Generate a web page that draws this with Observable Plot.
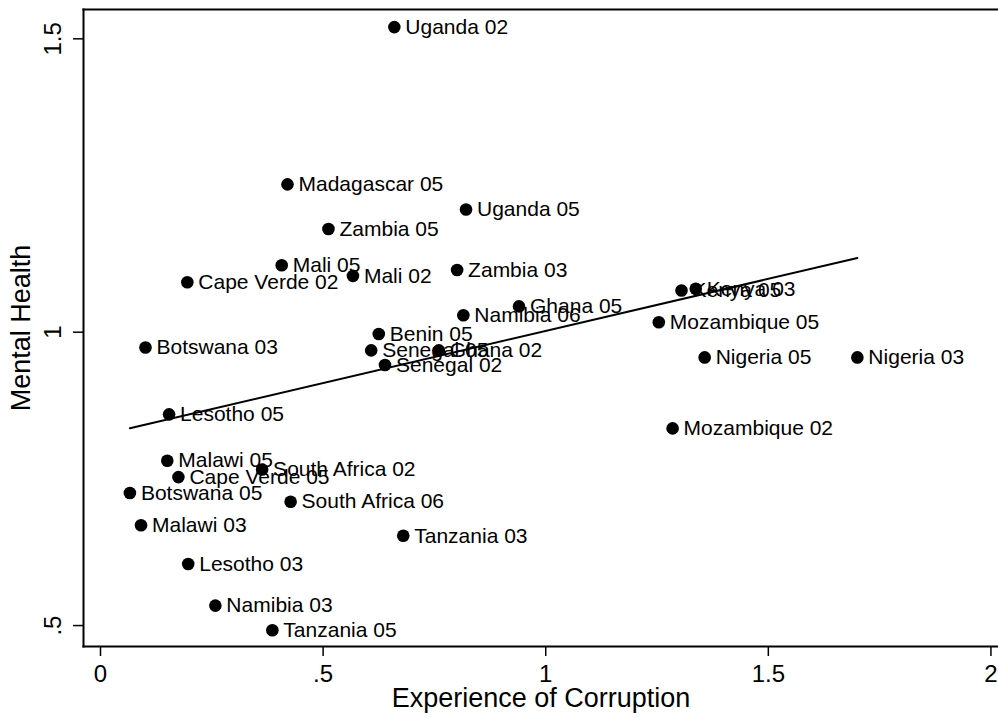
<!DOCTYPE html>
<html><head><meta charset="utf-8">
<script src="https://cdn.jsdelivr.net/npm/d3@7"></script>
<script src="https://cdn.jsdelivr.net/npm/@observablehq/plot@0.6"></script>
<style>
body{margin:0;background:#fff}
g[aria-label="x-axis label"], g[aria-label="y-axis label"]{font-size:27px}
</style>
</head><body><div id="chart"></div>
<script>
const labels = ["Uganda 02","Madagascar 05","Uganda 05","Zambia 05","Mali 05","Mali 02","Zambia 03","Cape Verde 02","Namibia 06","Benin 05","Botswana 03","Senegal 05","Ghana 02","Ghana 05","Kenya 05","Kenya 03","Mozambique 05","Nigeria 05","Nigeria 03","Mozambique 02","Senegal 02","Lesotho 05","Malawi 05","South Africa 02","Cape Verde 05","Botswana 05","South Africa 06","Malawi 03","Tanzania 03","Lesotho 03","Namibia 03","Tanzania 05"];
const corruption = [0.660,0.420,0.821,0.512,0.407,0.567,0.801,0.195,0.815,0.625,0.101,0.608,0.760,0.940,1.305,1.337,1.254,1.357,1.700,1.285,0.639,0.154,0.150,0.363,0.175,0.066,0.427,0.091,0.680,0.197,0.258,0.386];
const mentalHealth = [1.520,1.252,1.209,1.176,1.114,1.096,1.106,1.085,1.029,0.997,0.974,0.969,0.969,1.044,1.071,1.074,1.017,0.957,0.957,0.836,0.944,0.860,0.781,0.766,0.753,0.726,0.711,0.671,0.653,0.605,0.534,0.492];
const xTicks = [0, 0.5, 1, 1.5, 2];
const xTickLabels = ["0", ".5", "1", "1.5", "2"];
const yTicks = [0.5, 1, 1.5];
const yTickLabels = [".5", "1", "1.5"];

const data = labels.map((l, i) => ({label: l, x: corruption[i], y: mentalHealth[i]}));

const chart = Plot.plot({
  width: 998, height: 718,
  marginLeft: 83, marginTop: 9, marginRight: 0, marginBottom: 72,
  style: {fontFamily: "'Liberation Sans', Arial, Helvetica, sans-serif", background: "white", color: "black"},
  x: {domain: [-0.0382, 2.017]},
  y: {domain: [0.4643, 1.550]},
  marks: [
    Plot.frame({anchor: "left", strokeWidth: 2}),
    Plot.frame({anchor: "top", strokeWidth: 2}),
    Plot.frame({anchor: "bottom", strokeWidth: 2}),
    Plot.axisX({ticks: xTicks, tickFormat: d => xTickLabels[xTicks.indexOf(d)], tickSize: 10, tickPadding: 8, fontSize: 24, strokeWidth: 1.5,
      label: "Experience of Corruption", labelAnchor: "center", labelOffset: 60, labelArrow: false}),
    Plot.axisY({ticks: yTicks, tickFormat: d => yTickLabels[yTicks.indexOf(d)], tickSize: 10, tickPadding: 13, tickRotate: -90, fontSize: 24, strokeWidth: 1.5,
      label: "Mental Health", labelAnchor: "center", labelOffset: 73, labelArrow: false}),
    Plot.dot(data, {x: "x", y: "y", r: 6.3, fill: "black", stroke: null}),
    Plot.text(data, {x: "x", y: "y", text: "label", textAnchor: "start", dx: 11, fontSize: 21, fill: "black"}),
    Plot.linearRegressionY(data, {x: "x", y: "y", stroke: "black", strokeWidth: 2, ci: 0})
  ]
});
document.getElementById("chart").appendChild(chart);
</script>
</body></html>
